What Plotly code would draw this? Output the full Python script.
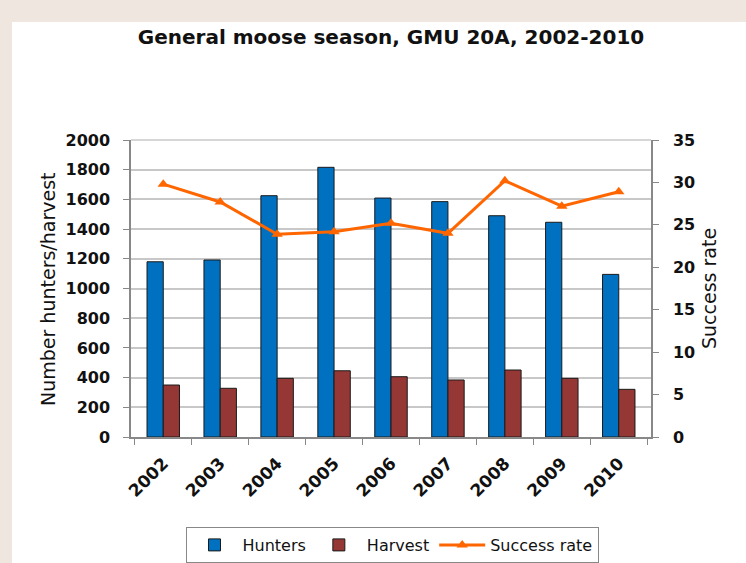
import plotly.graph_objects as go

years = ["2002", "2003", "2004", "2005", "2006", "2007", "2008", "2009", "2010"]
hunters = [1180, 1192, 1625, 1816, 1609, 1585, 1490, 1446, 1095]
harvest = [350, 328, 395, 446, 406, 384, 451, 395, 321]
success_rate = [29.8, 27.7, 23.9, 24.2, 25.2, 24.0, 30.2, 27.2, 28.9]

W, H = 746, 563
L, R, T, B = 131, 651, 140, 437
pw, ph = R - L, B - T

FONT = "DejaVu Sans, Liberation Sans, Arial, sans-serif"
TXT = "#111111"

fig = go.Figure()
fig.add_trace(go.Bar(
    x=years, y=hunters, name="Hunters",
    marker=dict(color="#0070C0", line=dict(color="#1a1a1a", width=1)),
))
fig.add_trace(go.Bar(
    x=years, y=harvest, name="Harvest",
    marker=dict(color="#953735", line=dict(color="#1a1a1a", width=1)),
))
fig.add_trace(go.Scatter(
    x=years, y=success_rate, name="Success rate", yaxis="y2",
    mode="lines+markers",
    line=dict(color="#FF6600", width=3),
    marker=dict(symbol="triangle-up", size=10, color="#FF6600"),
))


def px2paper_x(px):
    return (px - L) / pw


def px2paper_y(py):
    return (B - py) / ph


fig.update_layout(
    width=W, height=H,
    margin=dict(l=L, r=W - R, t=T, b=H - B, pad=0, autoexpand=False),
    paper_bgcolor="#EFE7DF",
    plot_bgcolor="white",
    font=dict(family=FONT, color=TXT),
    barmode="group",
    bargap=0.43,
    bargroupgap=0,
    showlegend=True,
    title=dict(
        text="<b>General moose season, GMU 20A, 2002-2010</b>",
        font=dict(size=20, family=FONT, color=TXT),
        x=0.5, xref="paper", xanchor="center",
        y=1 - 37 / H, yref="container", yanchor="middle",
    ),
    xaxis=dict(
        type="category",
        showline=True, linecolor="#888888", linewidth=1.5,
        ticks="outside", tickson="boundaries", ticklen=6, tickcolor="#888888",
        tickangle=-45,
        ticklabelstandoff=8,
        tickfont=dict(size=17, family=FONT, weight="bold", color=TXT),
        showgrid=False,
    ),
    yaxis=dict(
        range=[0, 2000], dtick=200,
        showline=True, linecolor="#888888", linewidth=1.5,
        ticks="outside", ticklen=6, tickcolor="#888888",
        ticklabelstandoff=10,
        tickfont=dict(size=16, family=FONT, weight="bold", color=TXT),
        showgrid=True, gridcolor="#C8C8C8", gridwidth=1.5,
        zeroline=False,
    ),
    yaxis2=dict(
        range=[0, 35], dtick=5,
        overlaying="y", side="right",
        showline=True, linecolor="#888888", linewidth=1.5,
        ticks="outside", ticklen=6, tickcolor="#888888",
        ticklabelstandoff=11,
        tickfont=dict(size=16, family=FONT, weight="bold", color=TXT),
        showgrid=False, zeroline=False,
    ),
    legend=dict(
        orientation="h",
        x=px2paper_x(392), xanchor="center",
        y=px2paper_y(527), yanchor="top",
        bordercolor="#888888", borderwidth=1,
        bgcolor="white",
        font=dict(size=16, family=FONT, color=TXT),
        traceorder="normal",
        itemwidth=46,
        tracegroupgap=0,
    ),
    shapes=[
        dict(type="rect", xref="paper", yref="paper", layer="below",
             x0=px2paper_x(12), x1=px2paper_x(W + 5),
             y0=px2paper_y(H + 5), y1=px2paper_y(22),
             fillcolor="white", line=dict(width=0)),
        dict(type="line", xref="paper", yref="paper", layer="above",
             x0=0, x1=1, y0=1, y1=1, line=dict(color="#C8C8C8", width=1.5)),
    ],
    annotations=[
        dict(text="Number hunters/harvest", xref="paper", yref="paper",
             x=px2paper_x(48), y=px2paper_y(289), textangle=-90,
             showarrow=False, xanchor="center", yanchor="middle",
             font=dict(size=19, family=FONT, color=TXT)),
        dict(text="Success rate", xref="paper", yref="paper",
             x=px2paper_x(709), y=px2paper_y(289), textangle=-90,
             showarrow=False, xanchor="center", yanchor="middle",
             font=dict(size=19, family=FONT, color=TXT)),
    ],
)

fig.write_html(
    "out.html",
    config={"displayModeBar": False},
    post_script="document.body.style.margin='0';document.body.style.overflow='hidden';",
)
